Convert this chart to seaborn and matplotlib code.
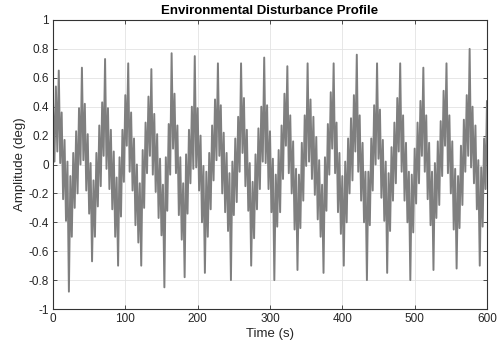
import numpy as np
import pandas as pd
import matplotlib
matplotlib.use("Agg")
import matplotlib.pyplot as plt
import seaborn as sns

# Time samples (s) and amplitude readings (deg)
time_s = list(range(0, 601, 2))
amplitude_deg = [
    0.44, 0.02, 0.54, 0.09, 0.65, 0.01, 0.36, -0.24, 0.17, -0.39,
    0.02, -0.88, -0.08, -0.50, 0.08, -0.30, 0.23, -0.20, 0.39, 0.00,
    0.67, 0.03, 0.42, -0.18, 0.21, -0.34, 0.01, -0.67, -0.11, -0.50,
    0.08, -0.29, 0.27, -0.15, 0.43, 0.06, 0.73, -0.03, 0.39, -0.17,
    0.24, -0.31, 0.09, -0.50, -0.09, -0.70, 0.05, -0.36, 0.24, -0.12,
    0.48, 0.13, 0.70, -0.05, 0.36, -0.18, 0.18, -0.42, 0.00, -0.54,
    -0.13, -0.70, 0.10, -0.30, 0.29, -0.06, 0.47, 0.06, 0.66, -0.07,
    0.35, -0.19, 0.21, -0.37, 0.04, -0.49, -0.14, -0.85, 0.05, -0.32,
    0.28, -0.07, 0.77, 0.11, 0.49, -0.06, 0.27, -0.35, 0.05, -0.52,
    -0.13, -0.78, 0.07, -0.34, 0.24, -0.13, 0.40, -0.03, 0.75, -0.02,
    0.39, -0.18, 0.20, -0.40, -0.01, -0.75, -0.05, -0.50, 0.08, -0.31,
    0.27, -0.11, 0.45, 0.03, 0.70, 0.06, 0.41, -0.20, 0.22, -0.33,
    0.08, -0.46, -0.06, -0.80, 0.02, -0.35, 0.18, -0.26, 0.33, -0.05,
    0.70, 0.08, 0.46, -0.15, 0.24, -0.32, 0.01, -0.70, -0.12, -0.51,
    0.07, -0.31, 0.25, -0.17, 0.40, 0.02, 0.74, 0.01, 0.41, -0.17,
    0.23, -0.33, 0.04, -0.80, -0.07, -0.43, 0.10, -0.33, 0.27, -0.10,
    0.49, 0.13, 0.68, -0.06, 0.34, -0.20, 0.16, -0.45, -0.03, -0.73,
    -0.07, -0.44, 0.15, -0.25, 0.34, -0.01, 0.70, 0.02, 0.45, -0.10,
    0.33, -0.21, 0.19, -0.38, 0.03, -0.50, -0.14, -0.75, 0.05, -0.32,
    0.28, -0.07, 0.50, 0.11, 0.70, -0.06, 0.29, -0.33, 0.08, -0.48,
    -0.08, -0.70, 0.02, -0.40, 0.18, -0.20, 0.32, -0.11, 0.48, 0.09,
    0.76, -0.05, 0.34, -0.25, 0.15, -0.40, -0.05, -0.80, -0.05, -0.42,
    0.18, -0.18, 0.41, 0.00, 0.70, 0.04, 0.38, -0.23, 0.17, -0.39,
    0.02, -0.75, -0.06, -0.46, 0.12, -0.25, 0.29, -0.13, 0.46, 0.09,
    0.70, -0.05, 0.34, -0.25, 0.15, -0.40, -0.05, -0.80, -0.07, -0.47,
    0.11, -0.27, 0.29, -0.13, 0.44, 0.06, 0.67, -0.05, 0.34, -0.24,
    0.15, -0.42, -0.05, -0.73, 0.01, -0.37, 0.16, -0.28, 0.30, -0.08,
    0.51, 0.13, 0.70, -0.06, 0.34, -0.20, 0.16, -0.45, -0.03, -0.72,
    -0.08, -0.44, 0.13, -0.28, 0.31, -0.05, 0.48, 0.06, 0.80, -0.02,
    0.40, -0.13, 0.27, -0.31, 0.03, -0.70, -0.02, -0.43, 0.18, -0.17,
    0.44,
]

x_ticks = [0, 100, 200, 300, 400, 500, 600]
y_ticks = [-1, -0.8, -0.6, -0.4, -0.2, 0, 0.2, 0.4, 0.6, 0.8, 1]
y_tick_labels = ["-1", "-0.8", "-0.6", "-0.4", "-0.2", "0", "0.2", "0.4", "0.6", "0.8", "1"]

df = pd.DataFrame({"Time (s)": time_s, "Amplitude (deg)": amplitude_deg})

sns.set_theme(style="white")
plt.rcParams["font.family"] = ["Liberation Sans", "DejaVu Sans"]
plt.rcParams["path.simplify"] = False

fig = plt.figure(figsize=(4.98, 3.49), dpi=100)
ax = fig.add_axes([0.1064, 0.1146, 0.8715, 0.8281])

sns.lineplot(data=df, x="Time (s)", y="Amplitude (deg)", ax=ax,
             color="#7f7f7f", linewidth=1.4, errorbar=None)

ax.set_xlim(0, 600)
ax.set_ylim(-1, 1)
ax.set_xticks(x_ticks)
ax.set_xticklabels([str(v) for v in x_ticks])
ax.set_yticks(y_ticks)
ax.set_yticklabels(y_tick_labels)
ax.grid(True, color="#e3e3e3", linewidth=0.6)
ax.set_axisbelow(True)

for s in ax.spines.values():
    s.set_visible(True)
    s.set_color("#333333")
    s.set_linewidth(0.8)

ax.tick_params(axis="both", which="both", direction="in", length=3, width=0.6,
               color="#333333", labelsize=8.5, labelcolor="#262626",
               top=True, right=True, bottom=True, left=True, pad=3)

ax.set_xlabel("Time (s)", fontsize=9.5, color="#262626", labelpad=2)
ax.set_ylabel("Amplitude (deg)", fontsize=9.5, color="#262626", labelpad=2)
ax.set_title("Environmental Disturbance Profile", fontsize=9.5, fontweight="bold",
             color="#000000", pad=4)

fig.savefig("out.png", dpi=100, facecolor="white")
